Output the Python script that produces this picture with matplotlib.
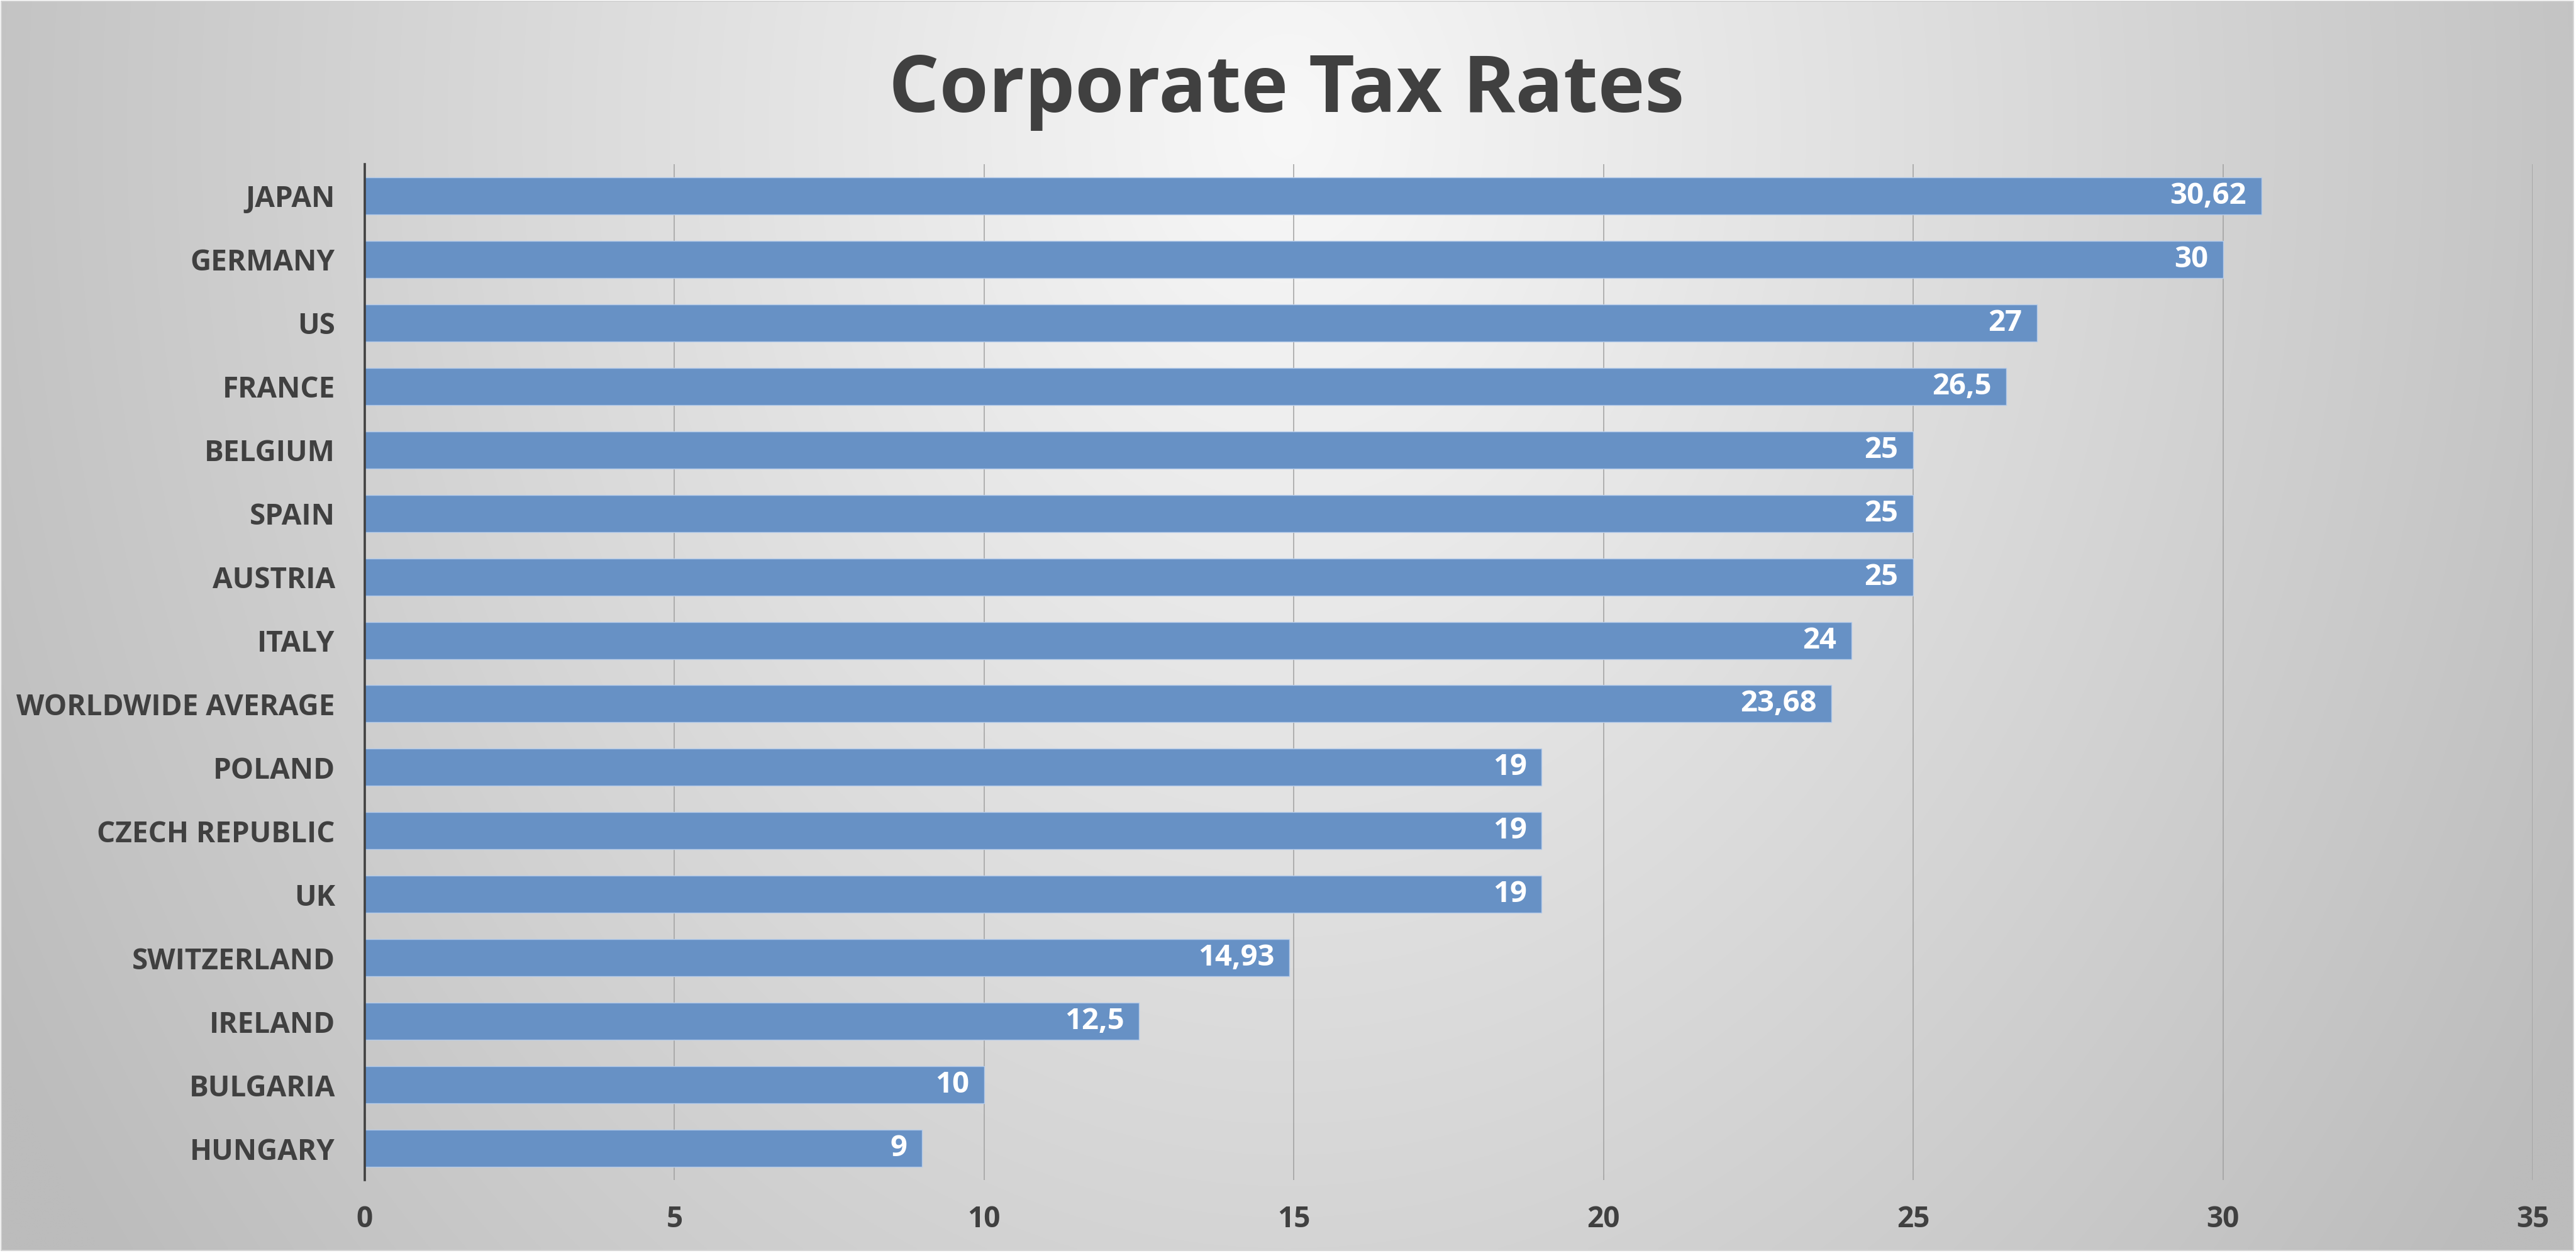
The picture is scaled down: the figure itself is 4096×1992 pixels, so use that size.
import numpy as np
import matplotlib
matplotlib.use("Agg")
import matplotlib.pyplot as plt
from matplotlib import font_manager

countries = ['JAPAN', 'GERMANY', 'US', 'FRANCE', 'BELGIUM', 'SPAIN', 'AUSTRIA', 'ITALY',
             'WORLDWIDE AVERAGE', 'POLAND', 'CZECH REPUBLIC', 'UK', 'SWITZERLAND',
             'IRELAND', 'BULGARIA', 'HUNGARY']
rates = [30.62, 30, 27, 26.5, 25, 25, 25, 24, 23.68, 19, 19, 19, 14.93, 12.5, 10, 9]
xticks = [0, 5, 10, 15, 20, 25, 30, 35]
title = 'Corporate Tax Rates'

names = {f.name for f in font_manager.fontManager.ttflist}
family = 'Open Sans' if 'Open Sans' in names else 'DejaVu Sans'
plt.rcParams['font.family'] = [family, 'DejaVu Sans']

TXT = '#404040'
W, H = 4096, 1992
fig = plt.figure(figsize=(W / 100, H / 100), dpi=100, facecolor='white')

# background radial gradient
bg = fig.add_axes([0, 0, 1, 1], zorder=-10)
yy, xx = np.mgrid[0:1:400j, 0:1:800j]
d = np.sqrt(((xx - 0.5) / 0.5) ** 2 + ((yy - 0.1) / 1.3) ** 2)
c = np.clip(248 - 52 * d, 188, 250) / 255.0
img = np.dstack([c, c, c])
bg.imshow(img, extent=[3 / W, 1 - 5 / W, 5 / H, 1 - 3 / H], aspect='auto',
          interpolation='bilinear', transform=bg.transAxes)
bg.set_xlim(0, 1)
bg.set_ylim(0, 1)
bg.axis('off')
bg.add_patch(plt.Rectangle((2 / W, 4 / H), 1 - 6 / W, 1 - 6 / H, transform=bg.transAxes,
                           fill=False, edgecolor='#d0d0d0', linewidth=1.2))

ax = fig.add_axes([580 / W, 116 / H, (4027 - 580) / W, (1876 - 261) / H])
ax.set_facecolor('none')
y = np.arange(len(countries))
ax.barh(y, rates, height=0.585, color='#6791c5', edgecolor='#b5cbe9', linewidth=1.0, zorder=3)
ax.set_ylim(len(countries) - 0.5, -0.5)
ax.set_xlim(0, 35)
ax.set_yticks(y)
ax.set_yticklabels(countries)
ax.set_xticks(xticks)
ax.set_xticklabels([str(t) for t in xticks])
ax.tick_params(axis='y', length=0, pad=34, labelsize=33, labelcolor=TXT)
ax.tick_params(axis='x', length=0, pad=28, labelsize=33, labelcolor=TXT)
for lab in ax.get_yticklabels() + ax.get_xticklabels():
    lab.set_fontweight('bold')
for s in ['top', 'right', 'bottom']:
    ax.spines[s].set_visible(False)
ax.spines['left'].set_color(TXT)
ax.spines['left'].set_linewidth(2.6)
ax.spines['left'].set_zorder(4)
for t in xticks[1:]:
    ax.axvline(t, color='#a0a0a0', linewidth=1.1, zorder=1)

for yi, v in zip(y, rates):
    s = ('%g' % v).replace('.', ',')
    ax.annotate(s, xy=(v, yi), xytext=(-17, 0), textcoords='offset points',
                ha='right', va='center', color='white', fontsize=34, fontweight='bold', zorder=5)

fig.text(0.4995, (H - 178) / H, title, ha='center', va='baseline', fontsize=91,
         fontweight='bold', color=TXT)

fig.savefig('out.png', dpi=100, facecolor='white')
